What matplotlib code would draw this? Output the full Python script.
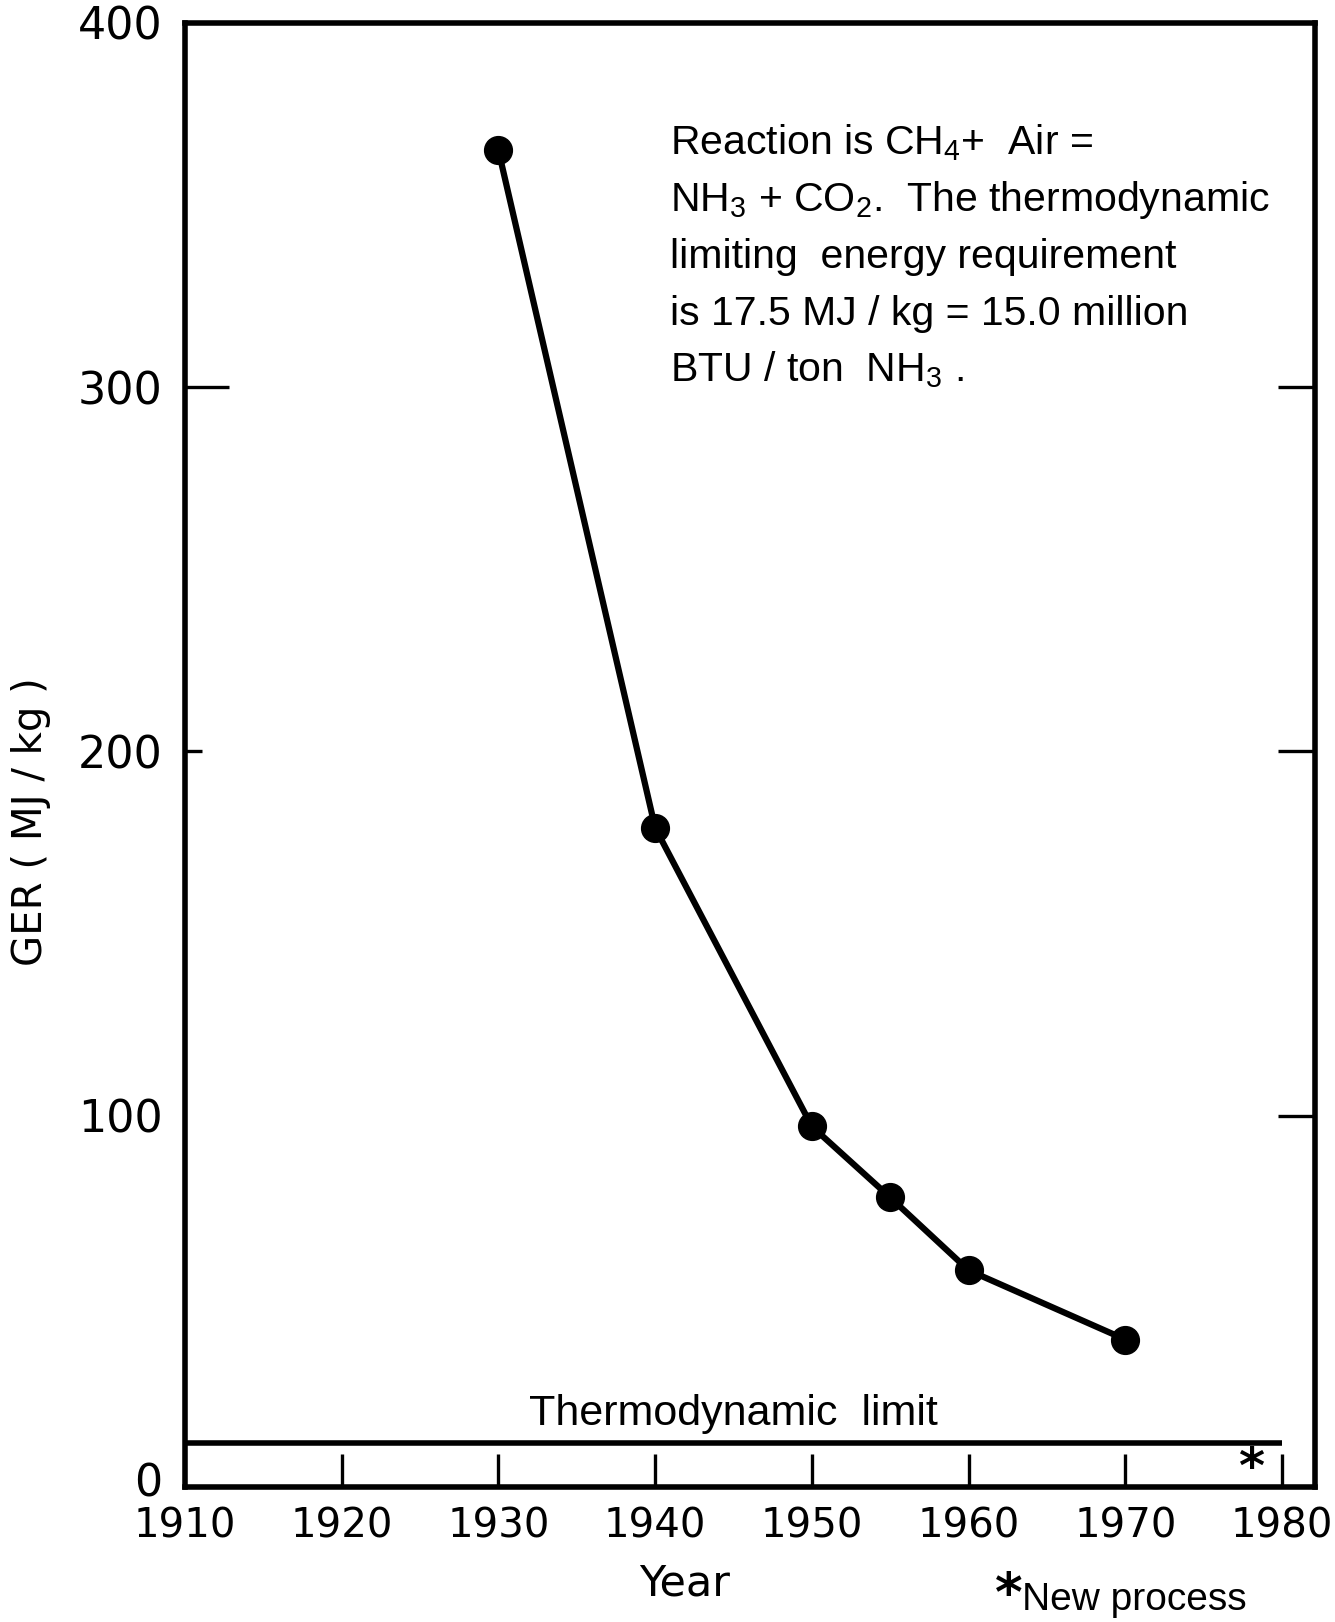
"""
GER of ammonia production (CH4 + air route) against year, with the
thermodynamic limit drawn as a flat line near the x axis.
"""

import matplotlib
matplotlib.use("Agg")
import matplotlib.pyplot as plt

# ── Data ───────────────────────────────────────────────────────────────────
YEARS = [1930, 1940, 1950, 1955, 1960, 1970]
GER = [365, 179, 97, 77.5, 57.5, 38.5]    # MJ/kg NH3

THERMO_LIMIT = 10                          # where the limit line is drawn
LIMIT_SPAN = [1910, 1980]
NEW_PROCESS_YEAR = 1978
NEW_PROCESS_Y = 3

X_TICKS = [1910, 1920, 1930, 1940, 1950, 1960, 1970, 1980]
Y_TICKS = [0, 100, 200, 300, 400]

NOTE_LINES = [
    r"Reaction is CH$\mathregular{_4}$+  Air =",
    r"NH$\mathregular{_3}$ + CO$\mathregular{_2}$.  The thermodynamic",
    "limiting  energy requirement",
    "is 17.5 MJ / kg = 15.0 million",
    r"BTU / ton  NH$\mathregular{_3}$ .",
]

NOTE_FONT = ["Liberation Sans", "DejaVu Sans"]
W, H = 1335, 1622

# ── Figure ────────────────────────────────────────────────────────────────
fig = plt.figure(figsize=(W / 100, H / 100), dpi=100)
ax = fig.add_axes([185 / W, 1 - 1487 / H, 1130 / W, 1464 / H])

ax.plot(YEARS, GER, color="black", lw=4.5, marker="o", ms=20, zorder=3)
ax.hlines(THERMO_LIMIT, *LIMIT_SPAN, color="black", lw=4)

ax.set_xlim(1910, 1982.1)
ax.set_ylim(-2, 400)

for sp in ax.spines.values():
    sp.set_linewidth(4)

ax.set_xticks(X_TICKS)
ax.set_yticks(Y_TICKS)
ax.tick_params(axis="x", direction="in", length=24, width=2.4,
               labelsize=29, pad=14)
ax.tick_params(axis="y", direction="in", right=True, length=27, width=2.4,
               labelsize=32, pad=16)

# hand-drawn look: only some ticks carry a tick mark
ax.xaxis.get_major_ticks()[0].tick1line.set_visible(False)
for t, v in zip(ax.yaxis.get_major_ticks(), Y_TICKS):
    t.tick1line.set_visible(v in (200, 300))
    t.tick2line.set_visible(v in (100, 200, 300))
    if v == 300:
        t.tick1line.set_markersize(32)
    if v == 200:
        t.tick1line.set_markersize(12)

# ── Annotations ───────────────────────────────────────────────────────────
ax.annotate("Thermodynamic  limit", xy=(sum(LIMIT_SPAN) / 2, THERMO_LIMIT),
            xytext=(0, 7), textcoords="offset points", ha="center",
            va="bottom", fontsize=31, family=NOTE_FONT)
ax.text(NEW_PROCESS_YEAR, NEW_PROCESS_Y, "*", ha="center", va="center",
        fontsize=36, fontweight="bold")

for i, line in enumerate(NOTE_LINES):
    ax.text(0.429, 0.9102 - i * 0.0388, line, transform=ax.transAxes,
            ha="left", va="baseline", fontsize=29.5, family=NOTE_FONT)

fig.text(685 / W, 1 - 1584 / H, "Year", ha="center", va="center", fontsize=31)
fig.text(31 / W, 1 - 822 / H, "GER ( MJ / kg )", rotation=90,
         ha="center", va="center", fontsize=29)
fig.text(995 / W, 1 - 1596 / H, "*", ha="left", va="center",
         fontsize=38, fontweight="bold")
fig.text(1022 / W, 1 - 1600 / H, "New process", ha="left", va="center",
         fontsize=28, family=NOTE_FONT)

fig.savefig("out.png", dpi=100, facecolor="white")
